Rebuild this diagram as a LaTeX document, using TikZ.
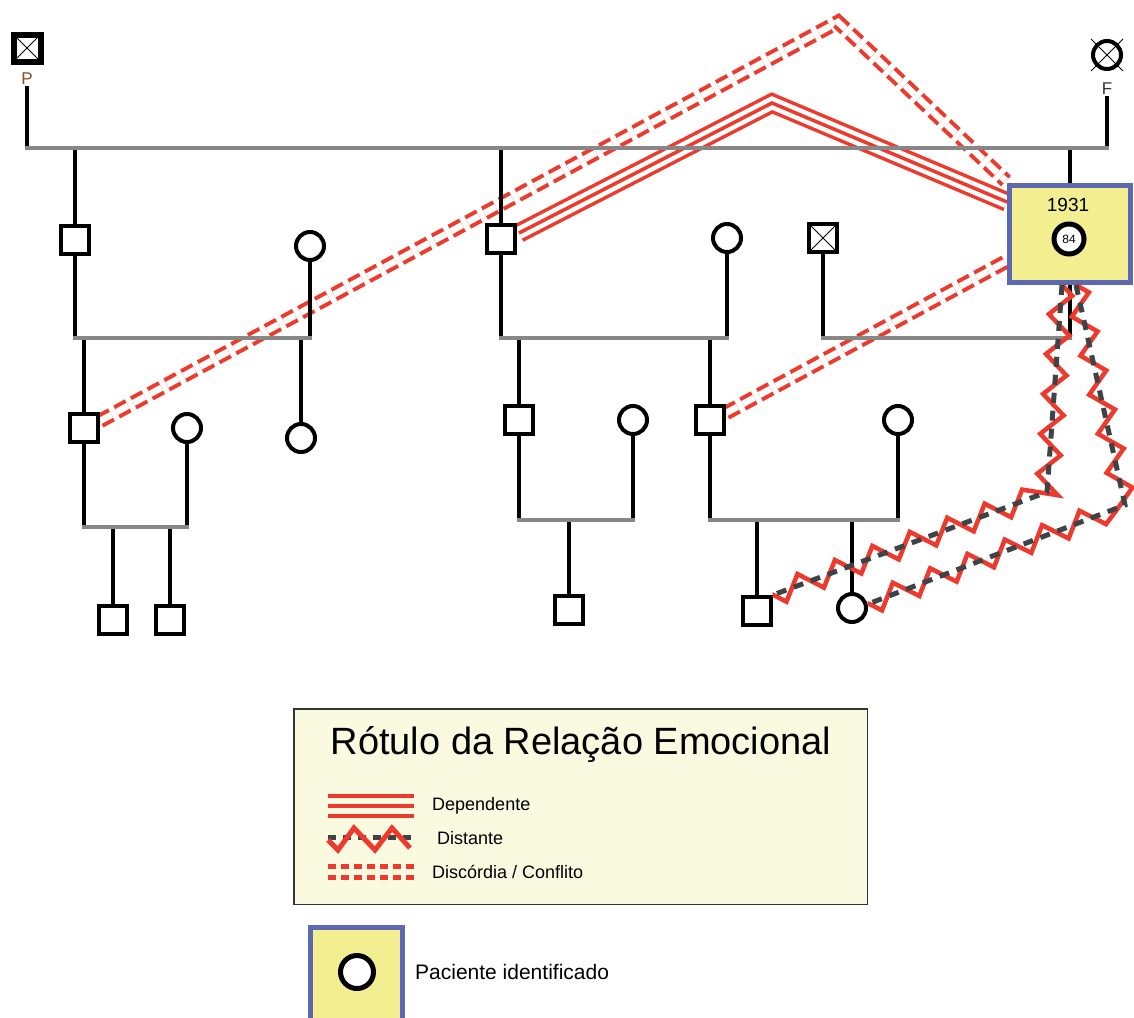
\documentclass[tikz,border=0pt]{standalone}
\usepackage{fontspec}
\setmainfont{Liberation Sans}
\usetikzlibrary{calc,decorations.pathmorphing}
\pgfdeclarelayer{rel}
\pgfdeclarelayer{kinl}
\pgfsetlayers{rel,kinl,main}
\definecolor{rred}{HTML}{EE3A2C}
\definecolor{mgray}{HTML}{878787}
\definecolor{dgray}{HTML}{3D4347}
\definecolor{ipfill}{HTML}{F3EE90}
\definecolor{ipblue}{HTML}{5C68B2}
\definecolor{legfill}{HTML}{FAFAE1}
\definecolor{lborder}{HTML}{333333}
\definecolor{pbrown}{HTML}{8A4A1A}
\definecolor{fgray}{HTML}{333333}
\tikzset{
  sq/.style={rectangle, draw=black, line width=4pt, fill=white, minimum size=28pt, inner sep=0pt},
  ci/.style={circle, draw=black, line width=4pt, fill=white, minimum size=28pt, inner sep=0pt},
  xsq/.style={sq, path picture={\draw[line width=1pt] (path picture bounding box.north west) -- (path picture bounding box.south east) (path picture bounding box.north east) -- (path picture bounding box.south west);}},
  lab/.style={inner sep=1pt, font=\fontsize{17}{17}\selectfont},
  kin/.style={line width=4pt, draw=black},
  mar/.style={line width=4pt, draw=mgray, line cap=rect},
  ipbox/.style={rectangle, draw=ipblue, fill=ipfill, line width=5pt, inner sep=0pt},
  dep/.style={draw=rred, line width=19.5pt, line join=miter, postaction={draw=white, line width=12.5pt}, postaction={draw=rred, line width=3.5pt}},
  depl/.style={draw=rred, line width=24pt, postaction={draw=legfill, line width=16pt}, postaction={draw=rred, line width=4pt}},
  conf/.style={draw=rred, line width=4pt, double=white, double distance=6.5pt, line join=miter, dash pattern=on 13pt off 6pt},
  dist/.style={draw=rred, line width=4.5pt, decorate, decoration={zigzag, segment length=40pt, amplitude=11pt}},
  distc/.style={draw=dgray, line width=5pt, dash pattern=on 10pt off 8pt},
  item/.style={anchor=west, inner sep=0pt, font=\fontsize{18}{20}\selectfont},
}
\begin{document}
\begin{tikzpicture}[x=1pt, y=-1pt]
\useasboundingbox (0,0) rectangle (1134,1017);

% ---------- generation 1
\node[xsq, line width=6pt, minimum size=27pt] (P) at (27,48) {};
\node[lab, text=pbrown] (Pl) at (27,79) {P};
\node[ci] (F) at (1107,55) {};
\node[lab, text=fgray] (Fl) at (1107,89) {F};
\draw[line width=1pt] ($(F)+(-16,-16)$) -- ($(F)+(16,16)$) ($(F)+(16,-16)$) -- ($(F)+(-16,16)$);
\coordinate (t1) at (27,148);
\coordinate (t2) at (1107,148);

% ---------- generation 2
\node[sq] (A) at (75,240) {};
\node[ci] (As) at (310,246) {};
\node[sq] (B) at (501,239) {};
\node[ci] (Bs) at (727,238) {};
\node[xsq] (X) at (823,238) {};
\node[ipbox, minimum width=121pt, minimum height=97pt] (IP) at (1070,234) {};
\node[font=\fontsize{19}{19}\selectfont, inner sep=0pt] (yr) at (1068,205) {1931};
\node[ci, line width=5pt, minimum size=30pt, font=\fontsize{12}{12}\selectfont] (age) at (1069,239) {84};
\coordinate (r2) at (0,338);

% ---------- generation 3
\node[sq] (C) at (84,428) {};
\node[ci] (Cs) at (187,428) {};
\node[ci] (D) at (301,438) {};
\node[sq] (G) at (519,420) {};
\node[ci] (Gs) at (633,420) {};
\node[sq] (H) at (710,420) {};
\node[ci] (Hs) at (898,420) {};
\coordinate (r3a) at (0,527);
\coordinate (r3b) at (0,520);

% ---------- generation 4
\node[sq] (E1) at (113,620) {};
\node[sq] (E2) at (170,620) {};
\node[sq] (K) at (569,610) {};
\node[sq] (L) at (757,611) {};
\node[ci] (M) at (852,608) {};

% ---------- kinship lines
\begin{pgfonlayer}{kinl}
\draw[kin] (Pl.south) -- (t1);
\draw[kin] (Fl.south) -- (t2);
\draw[kin] (A.north) -- (A.north |- t1);
\draw[kin] (B.north) -- (B.north |- t1);
\draw[kin] (IP.north) -- (IP.north |- t1);
\draw[mar] (t1) -- (t2);

\draw[kin] (A.south) -- (A.south |- r2);
\draw[kin] (As.south) -- (As.south |- r2);
\draw[kin] (B.south) -- (B.south |- r2);
\draw[kin] (Bs.south) -- (Bs.south |- r2);
\draw[kin] (X.south) -- (X.south |- r2);
\draw[kin] (IP.south) -- (IP.south |- r2);
\draw[kin] (C.north) -- (C.north |- r2);
\draw[kin] (D.north) -- (D.north |- r2);
\draw[kin] (G.north) -- (G.north |- r2);
\draw[kin] (H.north) -- (H.north |- r2);
\draw[mar] (A.south |- r2) -- (As.south |- r2);
\draw[mar] (B.south |- r2) -- (Bs.south |- r2);
\draw[mar] (X.south |- r2) -- (IP.south |- r2);

\draw[kin] (C.south) -- (C.south |- r3a);
\draw[kin] (Cs.south) -- (Cs.south |- r3a);
\draw[kin] (E1.north) -- (E1.north |- r3a);
\draw[kin] (E2.north) -- (E2.north |- r3a);
\draw[mar] (C.south |- r3a) -- (Cs.south |- r3a);

\draw[kin] (G.south) -- (G.south |- r3b);
\draw[kin] (Gs.south) -- (Gs.south |- r3b);
\draw[kin] (K.north) -- (K.north |- r3b);
\draw[mar] (G.south |- r3b) -- (Gs.south |- r3b);

\draw[kin] (H.south) -- (H.south |- r3b);
\draw[kin] (Hs.south) -- (Hs.south |- r3b);
\draw[kin] (L.north) -- (L.north |- r3b);
\draw[kin] (M.north) -- (M.north |- r3b);
\draw[mar] (H.south |- r3b) -- (Hs.south |- r3b);
\end{pgfonlayer}

% ---------- emotional relations
\coordinate (pk1) at (772,103);
\coordinate (pk2) at (838,22);
\coordinate (zz1) at (1047,492);
\coordinate (zz2) at (1125,505);
\begin{pgfonlayer}{rel}
\draw[conf] ($(C.east)+(0,-7)$) -- (pk2) -- ($(IP.north west)+(-1,-2)$);
\draw[conf] ($(H.east)+(0,-7)$) -- ($(IP.west)+(0,27)$);
\draw[dep] ($(B.east)+(2,-6)$) -- (pk1) -- ($(IP.west)+(0,-32)$);
\end{pgfonlayer}
\draw[dist] ($(IP.south)+(-8,0)$) -- (zz1) -- (L.north east);
\draw[distc] ($(IP.south)+(-8,0)$) -- (zz1) -- (L.north east);
\draw[dist] ($(IP.south)+(6,0)$) -- (zz2) -- ($(M.east)+(0,-4)$);
\draw[distc] ($(IP.south)+(6,0)$) -- (zz2) -- ($(M.east)+(0,-4)$);

% ---------- legend
\node[rectangle, draw=lborder, fill=legfill, line width=1.5pt, minimum width=573.5pt, minimum height=195.5pt, inner sep=0pt] (leg) at (580.5,806.5) {};
\node[font=\fontsize{38}{40}\selectfont, inner sep=0pt] (title) at (581,745) {Rótulo da Relação Emocional};
\coordinate (l1a) at (328,806);
\coordinate (l1b) at (414,806);
\draw[depl] (l1a) -- (l1b);
\node[item] (dtxt) at (432,806) {Dependente};
\coordinate (l2a) at (328,837);
\coordinate (l2b) at (414,837);
\draw[distc, dash pattern=on 8pt off 7pt] (l2a) -- (l2b);
\draw[rred, line width=5pt] (328,840) -- (338,850) -- (354,828) -- (375,850) -- (392,828) -- (410,848);
\node[item] (stxt) at (437,838) {Distante};
\coordinate (l3a) at (328,866);
\coordinate (l3b) at (414,866);
\coordinate (l4a) at (328,877);
\coordinate (l4b) at (414,877);
\draw[rred, line width=5pt, dash pattern=on 8pt off 5pt] (l3a) -- (l3b);
\draw[rred, line width=5pt, dash pattern=on 8pt off 5pt] (l4a) -- (l4b);
\node[item] (ctxt) at (432,872) {Discórdia / Conflito};

\node[ipbox, minimum width=92pt, minimum height=100pt] (pbox) at (356.5,977) {};
\node[ci, line width=5pt, minimum size=33pt] (pc) at (357,972) {};
\node[item, font=\fontsize{21}{23}\selectfont] (ptxt) at (415,972) {Paciente identificado};
\end{tikzpicture}
\end{document}
